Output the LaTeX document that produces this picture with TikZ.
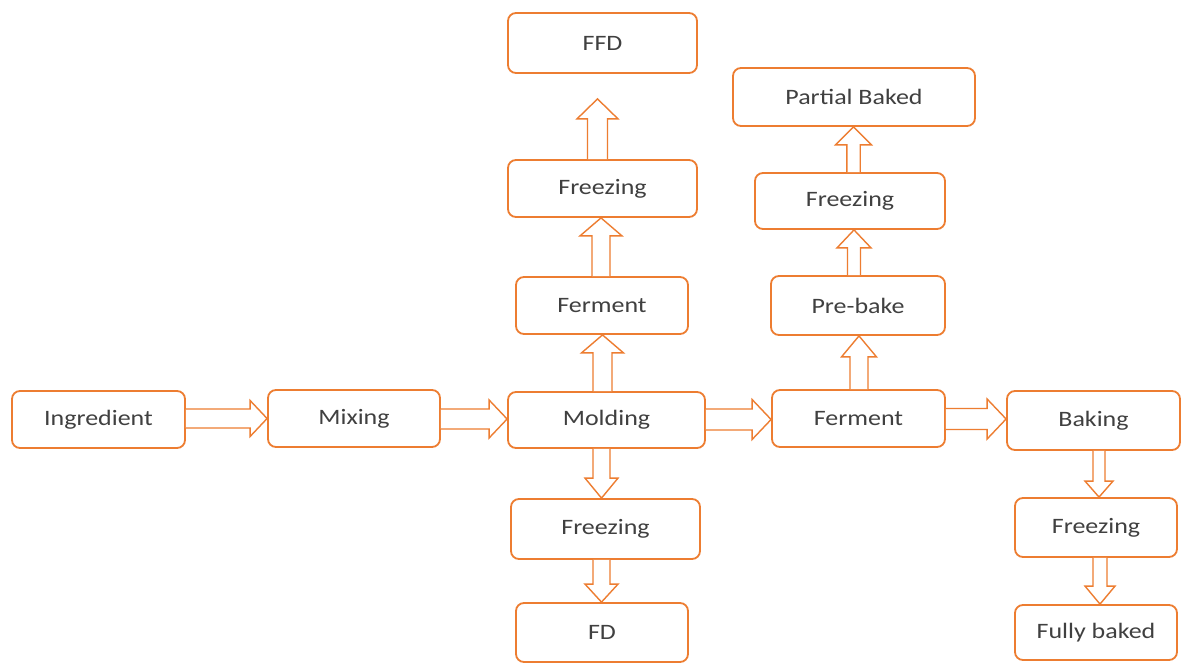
\documentclass[tikz,border=0pt]{standalone}
\usepackage{fontspec}
\setmainfont{Carlito}[FakeStretch=1.18]
\usetikzlibrary{calc}
\definecolor{org}{HTML}{ED7D31}
\definecolor{txt}{HTML}{404040}
\tikzset{
  box/.style={draw=org,line width=1.8pt,rounded corners=8pt,fill=white,text=txt,inner sep=0pt,font=\fontsize{22}{26}\selectfont},
  arr/.style={draw=org,line width=1.4pt,fill=white,line join=miter}
}
% horizontal arrow: from, to, y, shaft half, head half, head length
\newcommand\harr[6]{%
  \draw[arr] let \p1=(#1.east), \p2=(#2.west) in
  (\x1,{-#3pt+#4pt}) -- ({\x2-#6pt},{-#3pt+#4pt}) -- ({\x2-#6pt},{-#3pt+#5pt}) -- (\x2,{-#3pt})
  -- ({\x2-#6pt},{-#3pt-#5pt}) -- ({\x2-#6pt},{-#3pt-#4pt}) -- (\x1,{-#3pt-#4pt});}
% up arrow: from (lower), to (upper), x, shaft half, head half, head length, gap
\newcommand\uarr[7]{%
  \draw[arr] let \p1=(#1.north), \p2=(#2.south) in
  ({#3pt-#4pt},\y1) -- ({#3pt-#4pt},{\y2-#7pt-#6pt}) -- ({#3pt-#5pt},{\y2-#7pt-#6pt}) -- (#3pt,{\y2-#7pt})
  -- ({#3pt+#5pt},{\y2-#7pt-#6pt}) -- ({#3pt+#4pt},{\y2-#7pt-#6pt}) -- ({#3pt+#4pt},\y1);}
% down arrow: from (upper), to (lower), x, shaft half, head half, head length
\newcommand\darr[6]{%
  \draw[arr] let \p1=(#1.south), \p2=(#2.north) in
  ({#3pt-#4pt},\y1) -- ({#3pt-#4pt},{\y2+#6pt}) -- ({#3pt-#5pt},{\y2+#6pt}) -- (#3pt,\y2)
  -- ({#3pt+#5pt},{\y2+#6pt}) -- ({#3pt+#4pt},{\y2+#6pt}) -- ({#3pt+#4pt},\y1);}
\begin{document}
\begin{tikzpicture}[x=1pt,y=-1pt]
\fill[white] (0,0) rectangle (1187,667);
\useasboundingbox (0,0) rectangle (1187,667);
% main row
\node[box,minimum width=173,minimum height=57] (ing) at (98.5,419.5) {Ingredient};
\node[box,minimum width=172,minimum height=57] (mix) at (354,418.5) {Mixing};
\node[box,minimum width=197,minimum height=56] (mold) at (606.5,420) {Molding};
\node[box,minimum width=173,minimum height=57] (fer) at (858.5,418.5) {Ferment};
\node[box,minimum width=173,minimum height=59] (bak) at (1093.5,420.5) {Baking};
% baking column
\node[box,minimum width=162,minimum height=59] (fzb) at (1096,527.5) {Freezing};
\node[box,minimum width=162,minimum height=55] (full) at (1096,632.5) {Fully baked};
% molding column
\node[box,minimum width=189,minimum height=60] (ffd) at (602.5,43) {FFD};
\node[box,minimum width=189,minimum height=57] (fz1) at (602.5,188.5) {Freezing};
\node[box,minimum width=172,minimum height=57] (fer2) at (602,305.5) {Ferment};
\node[box,minimum width=189,minimum height=60] (fzd) at (605.5,529) {Freezing};
\node[box,minimum width=172,minimum height=59] (fd) at (602,632.5) {FD};
% ferment column
\node[box,minimum width=242,minimum height=58] (pb) at (854,97) {Partial Baked};
\node[box,minimum width=190,minimum height=56] (fz2) at (850,201) {Freezing};
\node[box,minimum width=174,minimum height=59] (pre) at (858,305.5) {Pre-bake};
% horizontal arrows
\harr{ing}{mix}{418.5}{9.5}{18}{17}
\harr{mix}{mold}{419}{10}{19}{18}
\harr{mold}{fer}{419.5}{10.5}{20}{19}
\harr{fer}{bak}{419}{10.5}{20}{19}
% up arrows
\uarr{mold}{fer2}{602.5}{9.5}{21}{18}{0}
\uarr{fer2}{fz1}{601}{9}{21}{18}{0}
\uarr{fz1}{ffd}{597.5}{10}{20.5}{20}{25}
\uarr{fer}{pre}{859}{9}{17.5}{21}{0}
\uarr{pre}{fz2}{854}{6.5}{17}{18}{0}
\uarr{fz2}{pb}{853.5}{6.7}{18}{18}{0}
% down arrows
\darr{mold}{fzd}{601.5}{8.5}{16.5}{20}
\darr{fzd}{fd}{601.5}{8.5}{16.5}{18}
\darr{bak}{fzb}{1099}{6}{14}{16}
\darr{fzb}{full}{1100}{7}{15}{18}
\end{tikzpicture}
\end{document}
